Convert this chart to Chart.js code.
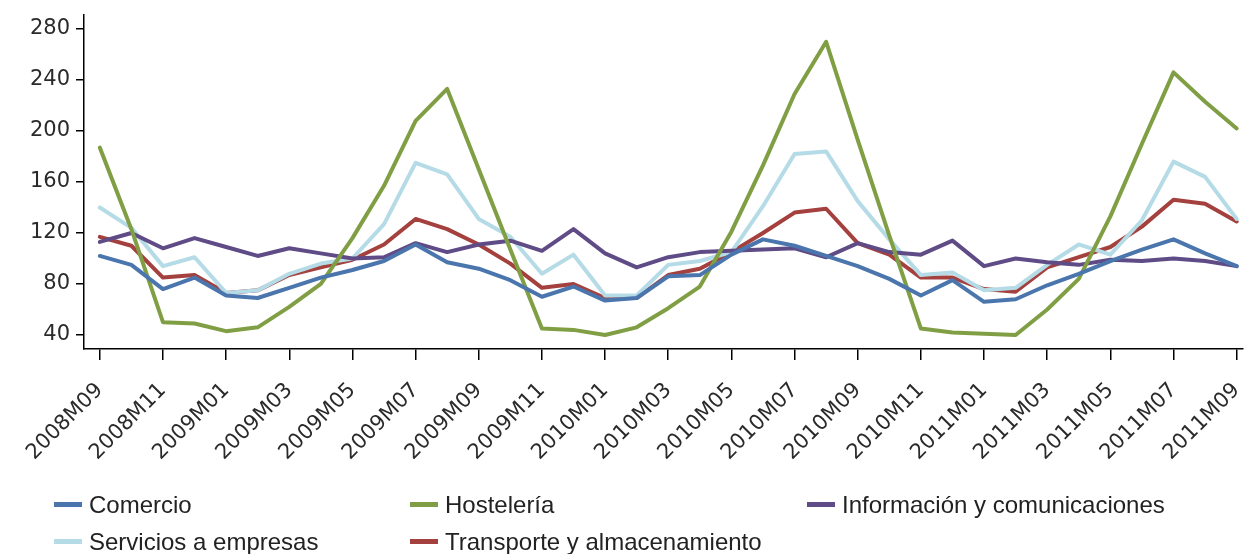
<!DOCTYPE html>
<html>
<head>
<meta charset="utf-8">
<script src="https://cdn.jsdelivr.net/npm/chart.js@4"></script>
<style>
  body { margin: 0; background: #fff; }
  #wrap { position: relative; width: 1244px; height: 554px; }
  #legend { position: absolute; left: 0; top: 0; width: 1244px; height: 554px; pointer-events: none;
            font-family: "Liberation Sans", Arial, sans-serif; font-size: 24px; color: #222; }
  .item { position: absolute; white-space: nowrap; line-height: 30px; }
  .sw { display: inline-block; width: 28px; height: 5px; vertical-align: middle; margin-right: 7px; position: relative; top: -2px; }
</style>
</head>
<body>
<div id="wrap">
  <canvas id="chart" width="1244" height="554"></canvas>
  <div id="legend"></div>
</div>
<script>
const months = [
  "2008M09","2008M10","2008M11","2008M12","2009M01","2009M02","2009M03","2009M04","2009M05","2009M06",
  "2009M07","2009M08","2009M09","2009M10","2009M11","2009M12","2010M01","2010M02","2010M03","2010M04",
  "2010M05","2010M06","2010M07","2010M08","2010M09","2010M10","2010M11","2010M12","2011M01","2011M02",
  "2011M03","2011M04","2011M05","2011M06","2011M07","2011M08","2011M09"
];

const seriesNames = ["Comercio", "Hostelería", "Información y comunicaciones", "Servicios a empresas", "Transporte y almacenamiento"];

const comercio     = [102, 95, 76, 85, 71, 69, 77, 85, 91, 98, 111, 97, 92, 83, 70, 78, 67, 69, 86, 87, 103, 115, 110, 102, 94, 84, 71, 83, 66, 68, 79, 88, 98, 107, 115, 104, 94];
const hosteleria   = [187, 123, 50, 49, 43, 46, 62, 80, 116, 157, 208, 233, 170, 107, 45, 44, 40, 46, 61, 78, 121, 173, 229, 270, 193, 118, 45, 42, 41, 40, 60, 84, 133, 190, 246, 223, 202];
const informacion  = [113, 120, 108, 116, 109, 102, 108, 104, 100, 101, 112, 105, 111, 114, 106, 123, 104, 93, 101, 105, 106, 107, 108, 101, 112, 105, 103, 114, 94, 100, 97, 95, 99, 98, 100, 98, 94];
const servicios    = [140, 124, 94, 101, 73, 75, 88, 96, 100, 127, 175, 166, 131, 117, 88, 103, 71, 71, 95, 98, 105, 141, 182, 184, 145, 115, 87, 89, 75, 77, 95, 111, 103, 130, 176, 164, 131];
const transporte   = [117, 110, 85, 87, 73, 75, 87, 93, 99, 111, 131, 123, 111, 96, 77, 80, 69, 69, 87, 92, 105, 120, 136, 139, 112, 103, 85, 85, 76, 74, 93, 101, 109, 125, 146, 143, 129];

const yTicks = [40, 80, 120, 160, 200, 240, 280];
const xTickIdx = [0, 2, 4, 6, 8, 10, 12, 14, 16, 18, 20, 22, 24, 26, 28, 30, 32, 34, 36];

const colors = ["#4a76ad", "#809f45", "#5f4b86", "#b5dbe6", "#a4403d"];
const allSeries = [comercio, hosteleria, informacion, servicios, transporte];

const tickFont = { family: "'DejaVu Sans', Verdana, sans-serif", size: 21 };

new Chart(document.getElementById('chart'), {
  type: 'line',
  data: {
    datasets: allSeries.map((vals, k) => ({
      label: seriesNames[k],
      data: vals.map((v, i) => ({ x: i, y: v })),
      borderColor: colors[k],
      borderWidth: 4,
      borderJoinStyle: 'round',
      borderCapStyle: 'round',
      pointRadius: 0,
      tension: 0,
      fill: false
    }))
  },
  options: {
    responsive: false,
    animation: false,
    devicePixelRatio: 1,
    layout: { padding: { top: 15, right: 1, left: 0, bottom: 0 } },
    plugins: { legend: { display: false }, tooltip: { enabled: false } },
    scales: {
      x: {
        type: 'linear',
        min: -0.5,
        max: 36.2,
        afterBuildTicks: s => { s.ticks = xTickIdx.map(v => ({ value: v })); },
        afterFit: s => { s.height = 205; s.paddingLeft = 0; s.paddingRight = 0; },
        ticks: {
          autoSkip: false,
          minRotation: 45,
          maxRotation: 45,
          padding: 18,
          color: '#2a2a2a',
          font: tickFont,
          callback: v => months[v]
        },
        grid: { drawOnChartArea: false, drawTicks: true, tickLength: 11, color: '#000', lineWidth: 1.5 },
        border: { display: true, color: '#000', width: 1.5 }
      },
      y: {
        min: 29,
        max: 291,
        afterBuildTicks: s => { s.ticks = yTicks.map(v => ({ value: v })); },
        afterFit: s => { s.width = 84; s.paddingTop = 0; s.paddingBottom = 0; },
        ticks: { padding: 6, color: '#2a2a2a', font: tickFont },
        grid: { drawOnChartArea: false, drawTicks: true, tickLength: 8, color: '#000', lineWidth: 1.5 },
        border: { display: true, color: '#000', width: 1.5 }
      }
    }
  }
});

// legend laid out in three columns like the original
const legendPos = [[54, 490], [410, 490], [807, 490], [54, 527], [410, 527]];
const legend = document.getElementById('legend');
seriesNames.forEach((name, k) => {
  const el = document.createElement('div');
  el.className = 'item';
  el.style.left = legendPos[k][0] + 'px';
  el.style.top = legendPos[k][1] + 'px';
  el.innerHTML = '<span class="sw" style="background:' + colors[k] + '"></span>' + name;
  legend.appendChild(el);
});
</script>
</body>
</html>
